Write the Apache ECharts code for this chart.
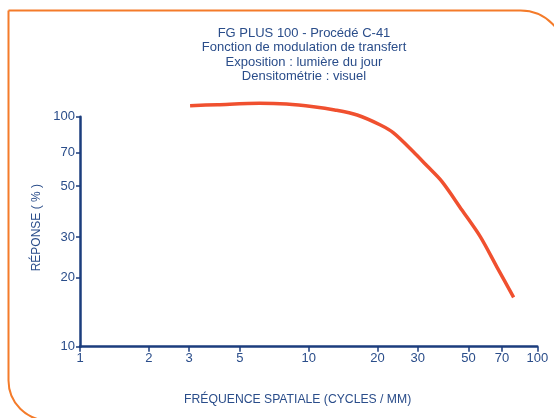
<!DOCTYPE html>
<html><head><meta charset="utf-8">
<script src="https://cdn.jsdelivr.net/npm/echarts@6/dist/echarts.min.js"></script>
<style>html,body{margin:0;padding:0;background:#fff}#c{width:554px;height:418px}</style>
</head><body><div id="c"></div>
<script>
const titleLines = ['FG PLUS 100 - Procédé C-41','Fonction de modulation de transfert','Exposition : lumière du jour','Densitométrie : visuel'];
const xTicks = [1, 2, 3, 5, 10, 20, 30, 50, 70, 100];
const yTicks = [10, 20, 30, 50, 70, 100];
const frequency = [3.03, 4, 6.1, 8, 10.5, 13, 16.3, 20.6, 23.5, 28.7, 33, 38.3, 46.8, 56.3, 66.6, 78.8];
const response = [111.6, 112.8, 114.4, 113.5, 110.5, 107, 101.7, 92, 85, 70.4, 61, 52.2, 39.3, 30.1, 22.2, 16.4];
const xName = 'FRÉQUENCE SPATIALE (CYCLES / MM)';
const yName = 'RÉPONSE ( % )';

const FONT = "'Liberation Sans', Arial, sans-serif";
const NAVY = '#1b3d7d';
const TXT = '#2a4d8a';
const chart = echarts.init(document.getElementById('c'), null, {renderer:'canvas'});
chart.setOption({
  animation:false,
  title:{text:titleLines.join('\n'), left:299, textAlign:'center', top:21,
    textStyle:{fontFamily:FONT, fontSize:13, fontWeight:'normal', color:TXT, lineHeight:14.5}},
  graphic:[{type:'rect', silent:true, shape:{x:8.5, y:10.5, width:557, height:410, r:[0,45,0,40]},
    style:{fill:'none', stroke:'#f47b2a', lineWidth:2}}],
  grid:{left:80, top:116.7, right:16.7, bottom:71.3},
  xAxis:{type:'log', min:1, max:100, logBase:10,
    name:xName, nameLocation:'middle', nameGap:47,
    nameTextStyle:{fontFamily:FONT, fontSize:12.2, color:TXT, padding:[0,22,0,0]},
    axisLine:{lineStyle:{color:NAVY, width:2.5}},
    axisTick:{show:true, length:5, lineStyle:{color:NAVY, width:1.5}, customValues:xTicks},
    axisLabel:{fontFamily:FONT, fontSize:13, color:TXT, margin:5, customValues:xTicks, formatter:v=>String(v)},
    splitLine:{show:false}, minorTick:{show:false}},
  yAxis:{type:'log', min:10, max:100, logBase:10,
    name:yName, nameLocation:'middle', nameGap:35,
    nameTextStyle:{fontFamily:FONT, fontSize:12, color:TXT, padding:[0,0,0,8]},
    axisLine:{lineStyle:{color:NAVY, width:2.5}},
    axisTick:{show:true, length:4, lineStyle:{color:NAVY, width:1.5}, customValues:yTicks},
    axisLabel:{fontFamily:FONT, fontSize:13, color:TXT, margin:5, customValues:yTicks, formatter:v=>String(v)},
    splitLine:{show:false}},
  series:[{type:'line', data:frequency.map((f,i)=>[f,response[i]]), smooth:0.3, showSymbol:false, clip:false,
    lineStyle:{color:'#f0502f', width:3.5}}]
});
</script></body></html>
